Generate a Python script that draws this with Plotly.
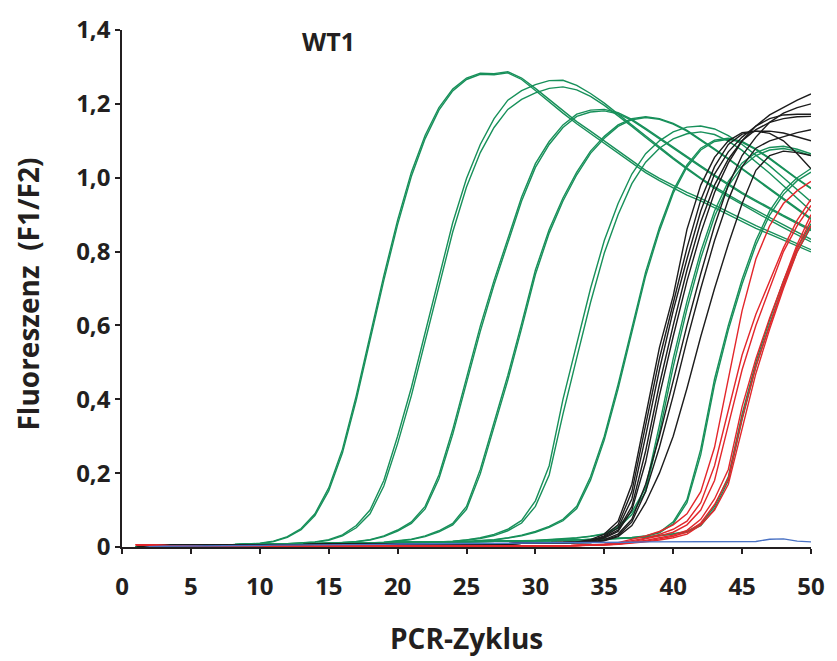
import plotly.graph_objects as go

# PCR cycle numbers 1..50
cycles = list(range(1, 51))

# Standard dilution series (green), each dilution run in duplicate
green_1a = [0.000, 0.004, 0.004, 0.005, 0.005, 0.005, 0.006, 0.006, 0.008, 0.010,
            0.016, 0.028, 0.050, 0.090, 0.160, 0.265, 0.410, 0.575, 0.735, 0.885,
            1.015, 1.115, 1.190, 1.240, 1.270, 1.283, 1.282, 1.287, 1.270, 1.242,
            1.212, 1.182, 1.152, 1.126, 1.100, 1.074, 1.046, 1.020, 0.998, 0.978,
            0.960, 0.944, 0.925, 0.906, 0.889, 0.870, 0.854, 0.838, 0.821, 0.805]
green_1b = [0.000, 0.004, 0.004, 0.005, 0.005, 0.005, 0.006, 0.006, 0.007, 0.009,
            0.015, 0.026, 0.047, 0.085, 0.152, 0.255, 0.398, 0.562, 0.722, 0.873,
            1.004, 1.106, 1.183, 1.235, 1.266, 1.280, 1.279, 1.284, 1.266, 1.236,
            1.205, 1.175, 1.146, 1.120, 1.094, 1.068, 1.040, 1.014, 0.992, 0.972,
            0.953, 0.937, 0.918, 0.899, 0.882, 0.863, 0.847, 0.831, 0.815, 0.799]
green_2a = [0.000, 0.004, 0.004, 0.005, 0.005, 0.005, 0.006, 0.006, 0.006, 0.007,
            0.008, 0.009, 0.011, 0.014, 0.020, 0.033, 0.058, 0.100, 0.180, 0.300,
            0.432, 0.580, 0.730, 0.878, 0.998, 1.090, 1.160, 1.210, 1.236, 1.252,
            1.263, 1.264, 1.250, 1.228, 1.202, 1.172, 1.142, 1.112, 1.082, 1.054,
            1.026, 0.999, 0.975, 0.953, 0.932, 0.912, 0.892, 0.872, 0.852, 0.833]
green_2b = [0.000, 0.004, 0.004, 0.005, 0.005, 0.005, 0.006, 0.006, 0.006, 0.007,
            0.008, 0.009, 0.010, 0.013, 0.018, 0.030, 0.052, 0.090, 0.165, 0.280,
            0.410, 0.556, 0.706, 0.853, 0.975, 1.068, 1.136, 1.185, 1.212, 1.230,
            1.242, 1.246, 1.238, 1.220, 1.196, 1.168, 1.139, 1.109, 1.079, 1.051,
            1.023, 0.996, 0.971, 0.949, 0.927, 0.906, 0.885, 0.865, 0.845, 0.826]
green_3a = [0.000, 0.004, 0.004, 0.005, 0.005, 0.005, 0.006, 0.006, 0.006, 0.007,
            0.007, 0.008, 0.008, 0.009, 0.010, 0.012, 0.015, 0.020, 0.030, 0.046,
            0.068, 0.110, 0.195, 0.318, 0.458, 0.598, 0.722, 0.832, 0.948, 1.038,
            1.098, 1.143, 1.172, 1.183, 1.185, 1.176, 1.158, 1.134, 1.108, 1.082,
            1.057, 1.032, 1.007, 0.983, 0.960, 0.939, 0.918, 0.898, 0.879, 0.860]
green_3b = [0.000, 0.004, 0.004, 0.005, 0.005, 0.005, 0.006, 0.006, 0.006, 0.007,
            0.007, 0.008, 0.008, 0.009, 0.010, 0.012, 0.014, 0.019, 0.028, 0.043,
            0.064, 0.103, 0.185, 0.305, 0.444, 0.584, 0.710, 0.821, 0.937, 1.028,
            1.090, 1.136, 1.166, 1.178, 1.181, 1.173, 1.155, 1.131, 1.105, 1.079,
            1.054, 1.029, 1.004, 0.980, 0.957, 0.936, 0.915, 0.895, 0.876, 0.857]
green_4a = [0.000, 0.004, 0.004, 0.005, 0.005, 0.005, 0.006, 0.006, 0.006, 0.007,
            0.007, 0.008, 0.008, 0.009, 0.009, 0.010, 0.010, 0.011, 0.013, 0.016,
            0.021, 0.030, 0.044, 0.064, 0.110, 0.210, 0.335, 0.465, 0.605, 0.750,
            0.860, 0.945, 1.015, 1.072, 1.112, 1.143, 1.160, 1.165, 1.160, 1.147,
            1.128, 1.104, 1.078, 1.052, 1.025, 0.998, 0.970, 0.943, 0.915, 0.890]
green_4b = [0.000, 0.004, 0.004, 0.005, 0.005, 0.005, 0.006, 0.006, 0.006, 0.007,
            0.007, 0.008, 0.008, 0.009, 0.009, 0.010, 0.010, 0.011, 0.012, 0.015,
            0.020, 0.028, 0.041, 0.060, 0.102, 0.198, 0.322, 0.452, 0.592, 0.738,
            0.850, 0.937, 1.008, 1.066, 1.107, 1.139, 1.157, 1.163, 1.158, 1.145,
            1.126, 1.102, 1.076, 1.050, 1.023, 0.996, 0.968, 0.941, 0.913, 0.887]
green_5a = [0.000, 0.004, 0.004, 0.005, 0.005, 0.005, 0.006, 0.006, 0.006, 0.007,
            0.007, 0.008, 0.008, 0.009, 0.009, 0.010, 0.010, 0.011, 0.011, 0.012,
            0.012, 0.013, 0.014, 0.016, 0.019, 0.025, 0.034, 0.048, 0.072, 0.125,
            0.220, 0.400, 0.550, 0.700, 0.830, 0.930, 1.010, 1.065, 1.100, 1.124,
            1.137, 1.140, 1.132, 1.114, 1.090, 1.062, 1.032, 1.000, 0.968, 0.935]
green_5b = [0.000, 0.004, 0.004, 0.005, 0.005, 0.005, 0.006, 0.006, 0.006, 0.007,
            0.007, 0.008, 0.008, 0.009, 0.009, 0.010, 0.010, 0.011, 0.011, 0.012,
            0.012, 0.013, 0.014, 0.015, 0.018, 0.023, 0.031, 0.044, 0.065, 0.110,
            0.195, 0.360, 0.512, 0.662, 0.796, 0.900, 0.984, 1.042, 1.080, 1.105,
            1.119, 1.124, 1.117, 1.099, 1.074, 1.044, 1.012, 0.978, 0.944, 0.910]
green_6a = [0.000, 0.004, 0.004, 0.005, 0.005, 0.005, 0.006, 0.006, 0.006, 0.007,
            0.007, 0.008, 0.008, 0.009, 0.009, 0.010, 0.010, 0.011, 0.011, 0.012,
            0.012, 0.013, 0.013, 0.014, 0.015, 0.017, 0.020, 0.025, 0.032, 0.042,
            0.056, 0.075, 0.110, 0.190, 0.300, 0.440, 0.595, 0.745, 0.865, 0.965,
            1.035, 1.080, 1.102, 1.107, 1.098, 1.078, 1.053, 1.025, 0.998, 0.972]
green_6b = [0.000, 0.004, 0.004, 0.005, 0.005, 0.005, 0.006, 0.006, 0.006, 0.007,
            0.007, 0.008, 0.008, 0.009, 0.009, 0.010, 0.010, 0.011, 0.011, 0.012,
            0.012, 0.013, 0.013, 0.014, 0.015, 0.017, 0.019, 0.024, 0.030, 0.040,
            0.053, 0.071, 0.104, 0.181, 0.290, 0.428, 0.583, 0.734, 0.856, 0.958,
            1.029, 1.075, 1.098, 1.104, 1.096, 1.076, 1.051, 1.023, 0.996, 0.970]
green_7a = [0.000, 0.004, 0.004, 0.005, 0.005, 0.005, 0.006, 0.006, 0.006, 0.007,
            0.007, 0.008, 0.008, 0.009, 0.009, 0.010, 0.010, 0.011, 0.011, 0.012,
            0.012, 0.013, 0.013, 0.014, 0.014, 0.015, 0.015, 0.016, 0.017, 0.018,
            0.020, 0.022, 0.025, 0.029, 0.036, 0.055, 0.095, 0.160, 0.330, 0.510,
            0.665, 0.800, 0.910, 0.990, 1.040, 1.068, 1.082, 1.085, 1.077, 1.065]
green_7b = [0.000, 0.004, 0.004, 0.005, 0.005, 0.005, 0.006, 0.006, 0.006, 0.007,
            0.007, 0.008, 0.008, 0.009, 0.009, 0.010, 0.010, 0.011, 0.011, 0.012,
            0.012, 0.013, 0.013, 0.014, 0.014, 0.015, 0.015, 0.016, 0.017, 0.018,
            0.019, 0.021, 0.024, 0.028, 0.034, 0.051, 0.088, 0.150, 0.310, 0.488,
            0.645, 0.782, 0.895, 0.978, 1.030, 1.060, 1.075, 1.079, 1.072, 1.060]
green_8a = [0.000, 0.004, 0.004, 0.005, 0.005, 0.005, 0.006, 0.006, 0.006, 0.007,
            0.007, 0.008, 0.008, 0.009, 0.009, 0.010, 0.010, 0.011, 0.011, 0.012,
            0.012, 0.013, 0.013, 0.014, 0.014, 0.015, 0.015, 0.016, 0.016, 0.017,
            0.017, 0.018, 0.019, 0.020, 0.021, 0.023, 0.026, 0.030, 0.040, 0.068,
            0.128, 0.265, 0.455, 0.600, 0.725, 0.830, 0.910, 0.965, 1.000, 1.025]
green_8b = [0.000, 0.004, 0.004, 0.005, 0.005, 0.005, 0.006, 0.006, 0.006, 0.007,
            0.007, 0.008, 0.008, 0.009, 0.009, 0.010, 0.010, 0.011, 0.011, 0.012,
            0.012, 0.013, 0.013, 0.014, 0.014, 0.015, 0.015, 0.016, 0.016, 0.017,
            0.017, 0.018, 0.019, 0.020, 0.021, 0.022, 0.025, 0.029, 0.038, 0.063,
            0.120, 0.250, 0.440, 0.588, 0.712, 0.818, 0.899, 0.955, 0.992, 1.015]
green_9a = [0.000, 0.004, 0.004, 0.005, 0.005, 0.005, 0.006, 0.006, 0.006, 0.007,
            0.007, 0.008, 0.008, 0.009, 0.009, 0.010, 0.010, 0.011, 0.011, 0.012,
            0.012, 0.013, 0.013, 0.014, 0.014, 0.015, 0.015, 0.016, 0.016, 0.017,
            0.017, 0.018, 0.019, 0.020, 0.021, 0.022, 0.024, 0.027, 0.031, 0.036,
            0.042, 0.062, 0.110, 0.190, 0.360, 0.500, 0.615, 0.720, 0.810, 0.875]
green_9b = [0.000, 0.004, 0.004, 0.005, 0.005, 0.005, 0.006, 0.006, 0.006, 0.007,
            0.007, 0.008, 0.008, 0.009, 0.009, 0.010, 0.010, 0.011, 0.011, 0.012,
            0.012, 0.013, 0.013, 0.014, 0.014, 0.015, 0.015, 0.016, 0.016, 0.017,
            0.017, 0.018, 0.019, 0.020, 0.021, 0.022, 0.024, 0.026, 0.030, 0.035,
            0.040, 0.058, 0.103, 0.180, 0.345, 0.488, 0.603, 0.708, 0.800, 0.866]

# Sample runs (black)
black_1 = [-0.002, 0.003, 0.004, 0.004, 0.005, 0.005, 0.005, 0.005, 0.006, 0.006,
           0.006, 0.006, 0.006, 0.007, 0.007, 0.007, 0.007, 0.007, 0.008, 0.008,
           0.008, 0.008, 0.008, 0.008, 0.009, 0.009, 0.009, 0.009, 0.010, 0.010,
           0.011, 0.012, 0.014, 0.020, 0.035, 0.070, 0.170, 0.360, 0.540, 0.680,
           0.860, 0.980, 1.055, 1.100, 1.122, 1.126, 1.120, 1.100, 1.065, 1.024]
black_2 = [-0.002, 0.003, 0.004, 0.004, 0.005, 0.005, 0.005, 0.005, 0.006, 0.006,
           0.006, 0.006, 0.006, 0.007, 0.007, 0.007, 0.007, 0.007, 0.008, 0.008,
           0.008, 0.008, 0.008, 0.008, 0.009, 0.009, 0.009, 0.009, 0.010, 0.010,
           0.011, 0.012, 0.013, 0.018, 0.030, 0.060, 0.150, 0.330, 0.510, 0.660,
           0.810, 0.940, 1.030, 1.090, 1.118, 1.126, 1.126, 1.121, 1.111, 1.100]
black_3 = [-0.002, 0.003, 0.004, 0.004, 0.005, 0.005, 0.005, 0.005, 0.006, 0.006,
           0.006, 0.006, 0.006, 0.007, 0.007, 0.007, 0.007, 0.007, 0.008, 0.008,
           0.008, 0.008, 0.008, 0.008, 0.009, 0.009, 0.009, 0.009, 0.010, 0.010,
           0.011, 0.012, 0.013, 0.016, 0.028, 0.052, 0.130, 0.300, 0.480, 0.640,
           0.780, 0.910, 1.010, 1.070, 1.110, 1.140, 1.160, 1.170, 1.172, 1.172]
black_4 = [-0.002, 0.003, 0.004, 0.004, 0.005, 0.005, 0.005, 0.005, 0.006, 0.006,
           0.006, 0.006, 0.006, 0.007, 0.007, 0.007, 0.007, 0.007, 0.008, 0.008,
           0.008, 0.008, 0.008, 0.008, 0.009, 0.009, 0.009, 0.009, 0.010, 0.010,
           0.011, 0.012, 0.013, 0.015, 0.026, 0.046, 0.110, 0.260, 0.440, 0.600,
           0.750, 0.880, 0.980, 1.050, 1.100, 1.130, 1.150, 1.160, 1.165, 1.166]
black_5 = [-0.002, 0.003, 0.004, 0.004, 0.005, 0.005, 0.005, 0.005, 0.006, 0.006,
           0.006, 0.006, 0.006, 0.007, 0.007, 0.007, 0.007, 0.007, 0.008, 0.008,
           0.008, 0.008, 0.008, 0.008, 0.009, 0.009, 0.009, 0.009, 0.010, 0.010,
           0.011, 0.012, 0.013, 0.014, 0.024, 0.042, 0.100, 0.230, 0.410, 0.570,
           0.720, 0.850, 0.960, 1.040, 1.100, 1.140, 1.170, 1.190, 1.210, 1.227]
black_6 = [-0.002, 0.003, 0.004, 0.004, 0.005, 0.005, 0.005, 0.005, 0.006, 0.006,
           0.006, 0.006, 0.006, 0.007, 0.007, 0.007, 0.007, 0.007, 0.008, 0.008,
           0.008, 0.008, 0.008, 0.008, 0.009, 0.009, 0.009, 0.009, 0.010, 0.010,
           0.011, 0.011, 0.012, 0.013, 0.020, 0.035, 0.075, 0.170, 0.300, 0.450,
           0.600, 0.740, 0.870, 0.980, 1.060, 1.110, 1.150, 1.175, 1.190, 1.200]
black_7 = [-0.002, 0.003, 0.004, 0.004, 0.005, 0.005, 0.005, 0.005, 0.006, 0.006,
           0.006, 0.006, 0.006, 0.007, 0.007, 0.007, 0.007, 0.007, 0.008, 0.008,
           0.008, 0.008, 0.008, 0.008, 0.009, 0.009, 0.009, 0.009, 0.010, 0.010,
           0.011, 0.011, 0.012, 0.012, 0.018, 0.031, 0.068, 0.150, 0.270, 0.410,
           0.560, 0.700, 0.830, 0.940, 1.030, 1.080, 1.100, 1.112, 1.122, 1.130]
black_8 = [-0.002, 0.003, 0.004, 0.004, 0.005, 0.005, 0.005, 0.005, 0.006, 0.006,
           0.006, 0.006, 0.006, 0.007, 0.007, 0.007, 0.007, 0.007, 0.008, 0.008,
           0.008, 0.008, 0.008, 0.008, 0.009, 0.009, 0.009, 0.009, 0.010, 0.010,
           0.011, 0.011, 0.012, 0.012, 0.017, 0.028, 0.058, 0.120, 0.200, 0.300,
           0.430, 0.570, 0.700, 0.820, 0.930, 1.020, 1.060, 1.072, 1.068, 1.060]

# Sample runs (red)
red_1 = [0.006, 0.005, 0.002, 0.001, 0.001, 0.001, 0.001, 0.001, 0.001, 0.001,
         0.001, 0.001, 0.001, 0.001, 0.001, 0.001, 0.001, 0.001, 0.001, 0.001,
         0.001, 0.001, 0.001, 0.001, 0.002, 0.002, 0.002, 0.002, 0.002, 0.002,
         0.003, 0.003, 0.004, 0.005, 0.007, 0.012, 0.020, 0.030, 0.042, 0.060,
         0.090, 0.150, 0.270, 0.460, 0.640, 0.780, 0.870, 0.930, 0.965, 0.990]
red_2 = [0.006, 0.005, 0.002, 0.001, 0.001, 0.001, 0.001, 0.001, 0.001, 0.001,
         0.001, 0.001, 0.001, 0.001, 0.001, 0.001, 0.001, 0.001, 0.001, 0.001,
         0.001, 0.001, 0.001, 0.001, 0.002, 0.002, 0.002, 0.002, 0.002, 0.002,
         0.003, 0.003, 0.004, 0.005, 0.007, 0.010, 0.016, 0.024, 0.034, 0.048,
         0.070, 0.120, 0.220, 0.370, 0.520, 0.630, 0.720, 0.810, 0.885, 0.942]
red_3 = [0.006, 0.005, 0.002, 0.001, 0.001, 0.001, 0.001, 0.001, 0.001, 0.001,
         0.001, 0.001, 0.001, 0.001, 0.001, 0.001, 0.001, 0.001, 0.001, 0.001,
         0.001, 0.001, 0.001, 0.001, 0.002, 0.002, 0.002, 0.002, 0.002, 0.002,
         0.003, 0.003, 0.004, 0.005, 0.006, 0.009, 0.014, 0.021, 0.030, 0.040,
         0.060, 0.100, 0.180, 0.330, 0.480, 0.600, 0.700, 0.800, 0.870, 0.925]
red_4 = [0.006, 0.005, 0.002, 0.001, 0.001, 0.001, 0.001, 0.001, 0.001, 0.001,
         0.001, 0.001, 0.001, 0.001, 0.001, 0.001, 0.001, 0.001, 0.001, 0.001,
         0.001, 0.001, 0.001, 0.001, 0.002, 0.002, 0.002, 0.002, 0.002, 0.002,
         0.003, 0.003, 0.004, 0.004, 0.006, 0.008, 0.012, 0.018, 0.025, 0.032,
         0.045, 0.075, 0.130, 0.210, 0.380, 0.510, 0.620, 0.720, 0.820, 0.900]
red_5 = [0.006, 0.005, 0.002, 0.001, 0.001, 0.001, 0.001, 0.001, 0.001, 0.001,
         0.001, 0.001, 0.001, 0.001, 0.001, 0.001, 0.001, 0.001, 0.001, 0.001,
         0.001, 0.001, 0.001, 0.001, 0.002, 0.002, 0.002, 0.002, 0.002, 0.002,
         0.003, 0.003, 0.004, 0.004, 0.006, 0.008, 0.011, 0.016, 0.022, 0.029,
         0.040, 0.065, 0.115, 0.185, 0.350, 0.490, 0.600, 0.710, 0.810, 0.885]
red_6 = [0.006, 0.005, 0.002, 0.001, 0.001, 0.001, 0.001, 0.001, 0.001, 0.001,
         0.001, 0.001, 0.001, 0.001, 0.001, 0.001, 0.001, 0.001, 0.001, 0.001,
         0.001, 0.001, 0.001, 0.001, 0.002, 0.002, 0.002, 0.002, 0.002, 0.002,
         0.003, 0.003, 0.004, 0.004, 0.005, 0.007, 0.010, 0.014, 0.019, 0.025,
         0.035, 0.060, 0.100, 0.170, 0.320, 0.470, 0.590, 0.700, 0.800, 0.870]

# No-template control (blue)
blue_ntc = [-0.006, 0.001, 0.002, 0.002, 0.003, 0.003, 0.003, 0.004, 0.004, 0.004,
            0.005, 0.005, 0.005, 0.006, 0.006, 0.006, 0.007, 0.007, 0.007, 0.008,
            0.008, 0.008, 0.009, 0.009, 0.009, 0.010, 0.010, 0.010, 0.011, 0.011,
            0.011, 0.012, 0.012, 0.012, 0.013, 0.013, 0.013, 0.014, 0.014, 0.014,
            0.014, 0.014, 0.014, 0.014, 0.014, 0.015, 0.021, 0.022, 0.016, 0.014]

green_runs = [green_1a, green_1b, green_2a, green_2b, green_3a, green_3b,
              green_4a, green_4b, green_5a, green_5b, green_6a, green_6b,
              green_7a, green_7b, green_8a, green_8b, green_9a, green_9b]
black_runs = [black_1, black_2, black_3, black_4, black_5, black_6, black_7, black_8]
red_runs = [red_1, red_2, red_3, red_4, red_5, red_6]

x_tick_vals = [0, 5, 10, 15, 20, 25, 30, 35, 40, 45, 50]
y_tick_vals = [0, 0.2, 0.4, 0.6, 0.8, 1.0, 1.2, 1.4]
y_tick_text = ["0", "0,2", "0,4", "0,6", "0,8", "1,0", "1,2", "1,4"]

GREEN = "#17905a"
BLACK = "#1c1c1c"
RED = "#e3262b"
BLUE = "#4a72c4"
INK = "#231f20"

for run in green_runs + black_runs + red_runs + [blue_ntc]:
    assert len(run) == len(cycles)

fig = go.Figure()


def add_runs(runs, color):
    for run in runs:
        fig.add_trace(go.Scatter(x=cycles, y=run, mode="lines",
                                 line=dict(color=color, width=1.4),
                                 hoverinfo="skip", showlegend=False))


add_runs(green_runs, GREEN)
add_runs(black_runs, BLACK)
add_runs(red_runs, RED)
add_runs([blue_ntc], BLUE)

axis_common = dict(showline=True, linecolor=INK, linewidth=1.5,
                   ticks="outside", ticklen=5, tickwidth=1.5, tickcolor=INK,
                   showgrid=False, zeroline=False,
                   tickfont=dict(family="Open Sans", size=24, color=INK, weight=700))

fig.update_layout(
    width=837, height=661,
    margin=dict(l=122, r=16, t=22, b=114),
    paper_bgcolor="white", plot_bgcolor="white",
    showlegend=False,
    font=dict(family="Open Sans", size=24, color=INK, weight=700),
    xaxis=dict(range=[0, 50], tickvals=x_tick_vals, ticklabelstandoff=12,
               **axis_common),
    yaxis=dict(range=[0, 1.4], tickvals=y_tick_vals, ticktext=y_tick_text,
               ticklabelstandoff=0, **axis_common),
    annotations=[
        dict(text="WT1", x=15.0, y=1.37, xref="x", yref="y",
             showarrow=False, xanchor="center", yanchor="middle",
             font=dict(family="Open Sans", size=25, color=INK, weight=700)),
        dict(text="PCR-Zyklus", x=0.5, y=0, xref="paper", yref="paper",
             showarrow=False, xanchor="center", yanchor="middle", yshift=-91,
             font=dict(family="Open Sans", size=28, color=INK, weight=700)),
        dict(text="Fluoreszenz  (F1/F2)", x=0, y=0.5, xref="paper", yref="paper",
             showarrow=False, xanchor="center", yanchor="middle", textangle=-90,
             xshift=-95, yshift=-6,
             font=dict(family="Open Sans", size=28, color=INK, weight=700)),
    ],
)

fig.write_html("out.html")
